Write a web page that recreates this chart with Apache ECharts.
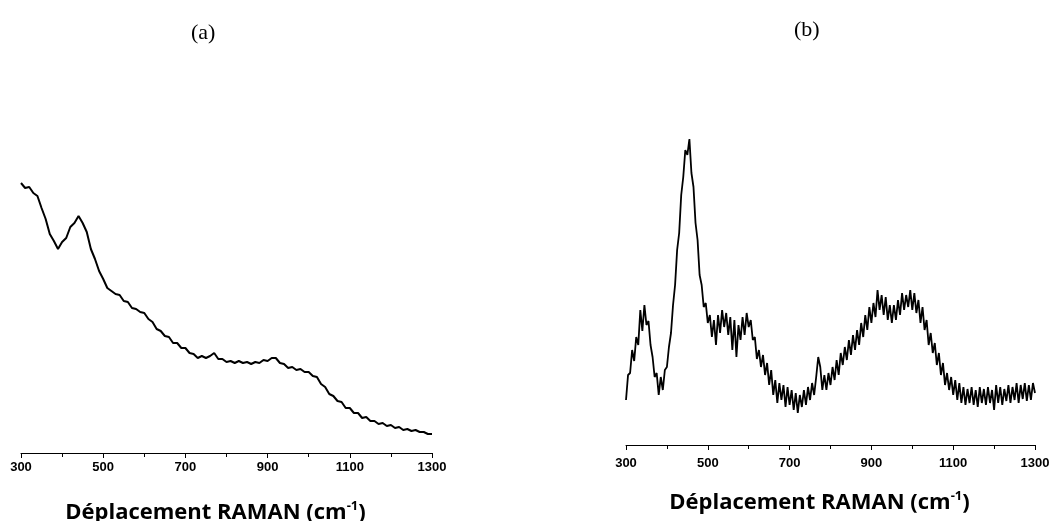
<!DOCTYPE html>
<html>
<head>
    <meta charset="UTF-8">
    <title>raman</title>
    <script src="https://cdn.jsdelivr.net/npm/echarts@6/dist/echarts.min.js"></script>
    <style>
        html, body { margin: 0; padding: 0; background: #fff; }
        #main { width: 1054px; height: 521px; }
    </style>
</head>
<body>
<div id="main"></div>
<script type="text/javascript">
    // spectre (a) : pas de 10 cm-1, de 300 a 1300
    var shiftA = [];
    for (var s = 300; s <= 1300; s += 10) shiftA.push(s);
    var intensA = [
        270, 265, 266, 260, 257, 245, 234, 219, 212, 204,
        211, 215, 226, 230, 237, 230, 221, 204, 194, 182,
        174, 165, 162, 159, 158, 152, 151, 145, 144, 141,
        140, 134, 131, 124, 122, 117, 116, 110, 110, 105,
        105, 100, 99, 95, 97, 95, 97, 100, 94, 94,
        91, 92, 90, 92, 90, 91, 89, 91, 90, 93,
        92, 95, 95, 90, 89, 85, 86, 83, 84, 81,
        81, 77, 76, 69, 66, 59, 57, 52, 51, 45,
        45, 40, 40, 35, 36, 32, 32, 29, 30, 27,
        28, 25, 26, 23, 24, 22, 23, 21, 21, 19,
        19
    ];

    // spectre (b) : pas de 5 cm-1, de 300 a 1300
    var shiftB = [];
    for (var t = 300; t <= 1300; t += 5) shiftB.push(t);
    var intensB = [
        45, 70, 72, 95, 84, 108, 100, 135, 114, 140,
        120, 124, 100, 88, 68, 72, 50, 68, 55, 75,
        78, 98, 112, 140, 160, 195, 212, 250, 268, 295,
        290, 306, 272, 258, 222, 205, 170, 160, 138, 142,
        122, 130, 108, 125, 100, 130, 112, 135, 118, 132,
        110, 128, 95, 125, 88, 120, 105, 128, 110, 132,
        118, 125, 105, 108, 86, 95, 78, 90, 70, 82,
        60, 75, 50, 65, 42, 62, 45, 60, 38, 58,
        40, 55, 35, 52, 32, 50, 38, 55, 40, 58,
        45, 62, 50, 68, 88, 78, 55, 70, 55, 72,
        60, 78, 65, 85, 70, 92, 80, 98, 85, 105,
        90, 110, 95, 115, 100, 122, 108, 130, 115, 138,
        122, 142, 128, 155, 135, 150, 130, 148, 125, 140,
        122, 140, 125, 145, 130, 152, 135, 150, 138, 155,
        135, 152, 132, 145, 122, 138, 115, 125, 100, 112,
        92, 102, 80, 92, 70, 82, 60, 72, 55, 68,
        50, 65, 45, 62, 42, 58, 40, 56, 42, 58,
        40, 55, 38, 58, 42, 56, 40, 58, 42, 55,
        35, 60, 42, 58, 40, 56, 44, 60, 42, 58,
        45, 62, 42, 60, 46, 62, 44, 60, 45, 62,
        52
    ];

    var xTicks = [300, 500, 700, 900, 1100, 1300];
    var axisTitle = 'Déplacement RAMAN (cm{sup|-1})';

    function pairs(xs, ys) {
        var out = [];
        for (var i = 0; i < xs.length; i++) out.push([xs[i], ys[i]]);
        return out;
    }

    function xAxisFor(idx, gap, labelMargin) {
        return {
            type: 'value',
            gridIndex: idx,
            min: 300,
            max: 1300,
            interval: 200,
            name: axisTitle,
            nameLocation: 'middle',
            nameGap: gap,
            nameTextStyle: {
                fontFamily: 'Open Sans',
                fontWeight: 'bold',
                fontSize: 22,
                color: '#000',
                padding: [0, 22, 0, 0],
                rich: {
                    sup: { fontFamily: 'Open Sans', fontWeight: 'bold', fontSize: 13, color: '#000', verticalAlign: 'top', padding: [0, 0, 12, 0] }
                }
            },
            axisLine: { onZero: false, lineStyle: { color: '#000', width: 1 } },
            axisTick: { show: true, length: 5, lineStyle: { color: '#000' } },
            minorTick: { show: true, splitNumber: 2, length: 4, lineStyle: { color: '#000' } },
            splitLine: { show: false },
            axisLabel: {
                color: '#000',
                fontFamily: 'Liberation Sans',
                fontWeight: 'bold',
                fontSize: 13,
                margin: labelMargin,
                formatter: function (v) { return xTicks.indexOf(v) >= 0 ? String(v) : ''; }
            }
        };
    }

    function yAxisFor(idx, max) {
        return {
            type: 'value',
            gridIndex: idx,
            min: 0,
            max: max,
            show: false
        };
    }

    var myChart = echarts.init(document.getElementById('main'));
    var option = {
        animation: false,
        backgroundColor: '#fff',
        title: [
            { text: '(a)', left: 186, top: 17, textStyle: { fontFamily: 'Liberation Serif', fontWeight: 'normal', fontSize: 22, color: '#000' } },
            { text: '(b)', left: 789, top: 14, textStyle: { fontFamily: 'Liberation Serif', fontWeight: 'normal', fontSize: 22, color: '#000' } }
        ],
        grid: [
            { left: 21, width: 411, top: 153, bottom: 68, outerBoundsMode: 'none' },
            { left: 626, width: 409, top: 125, bottom: 76, outerBoundsMode: 'none' }
        ],
        xAxis: [xAxisFor(0, 47, 8), xAxisFor(1, 45, 12)],
        yAxis: [yAxisFor(0, 300), yAxisFor(1, 320)],
        series: [
            {
                name: 'a',
                type: 'line',
                xAxisIndex: 0,
                yAxisIndex: 0,
                showSymbol: false,
                lineStyle: { color: '#000', width: 2 },
                data: pairs(shiftA, intensA)
            },
            {
                name: 'b',
                type: 'line',
                xAxisIndex: 1,
                yAxisIndex: 1,
                showSymbol: false,
                lineStyle: { color: '#000', width: 1.8 },
                data: pairs(shiftB, intensB)
            }
        ]
    };
    myChart.setOption(option);
</script>
</body>
</html>
